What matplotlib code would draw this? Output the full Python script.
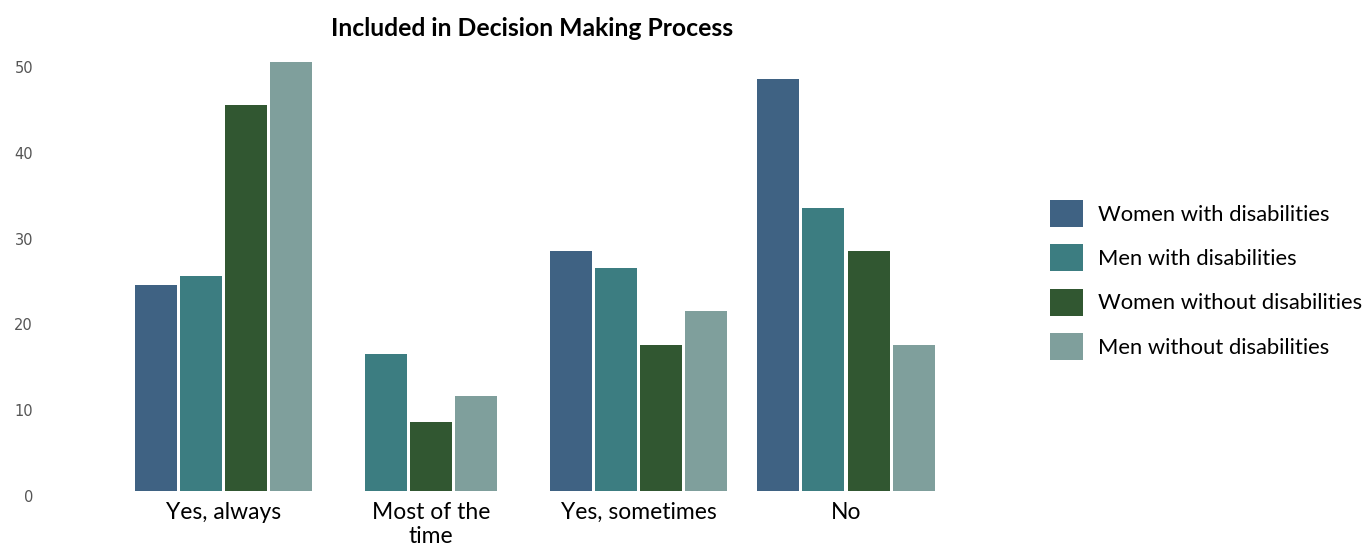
import matplotlib
matplotlib.use("Agg")
import matplotlib.pyplot as plt
from matplotlib.patches import Patch
from matplotlib.transforms import ScaledTranslation

# data
categories = ["Yes, always", "Most of the\ntime", "Yes, sometimes", "No"]
series_names = ["Women with disabilities", "Men with disabilities",
                "Women without disabilities", "Men without disabilities"]
women_dis = [24, None, 28, 48]
men_dis = [25, 16, 26, 33]
women_nodis = [45, 8, 17, 28]
men_nodis = [50, 11, 21, 17]
colors = ["#3f6283", "#3c7d81", "#315731", "#7f9f9c"]

series = [women_dis, men_dis, women_nodis, men_nodis]

fig = plt.figure(figsize=(13.65, 5.45), dpi=100)
ax = fig.add_axes([40 / 1365, 54.3 / 545, 960 / 1365, 445.8 / 545])

step = 0.218
width = 0.202
for i, cat in enumerate(categories):
    present = [k for k in range(len(series)) if series[k][i] is not None]
    n = len(present)
    for j, k in enumerate(present):
        x = i + (j - (n - 1) / 2) * step
        ax.bar(x, series[k][i], width=width, color=colors[k], linewidth=0)

ax.set_xlim(-0.884, 3.742)
ax.set_ylim(0, 52)
ax.set_yticks([0, 10, 20, 30, 40, 50])
ax.set_xticks(range(len(categories)))
ax.set_xticklabels(categories, fontsize=16.5, family="Lato", linespacing=1.18)
ax.tick_params(axis="x", length=0, pad=8)
ax.tick_params(axis="y", length=0, pad=5, labelsize=10.5, labelcolor="#555555")
for lbl in ax.get_yticklabels():
    lbl.set_transform(lbl.get_transform() + ScaledTranslation(0, -5 / 100, fig.dpi_scale_trans))
for s in ax.spines.values():
    s.set_visible(False)

fig.text(532 / 1365, 1 - 28 / 545, "Included in Decision Making Process",
         ha="center", va="center", fontsize=17.8, fontweight="bold", family="Lato")

handles = [Patch(facecolor=c, edgecolor="none") for c in colors]
fig.legend(handles, series_names, loc="center left",
           bbox_to_anchor=(1050 / 1365, 1 - 280 / 545), frameon=False,
           prop={"family": "Lato", "size": 15.8}, handlelength=1.5, handleheight=1.5,
           labelspacing=0.8, handletextpad=0.7, borderpad=0, borderaxespad=0)

fig.savefig("out.png", dpi=100)
